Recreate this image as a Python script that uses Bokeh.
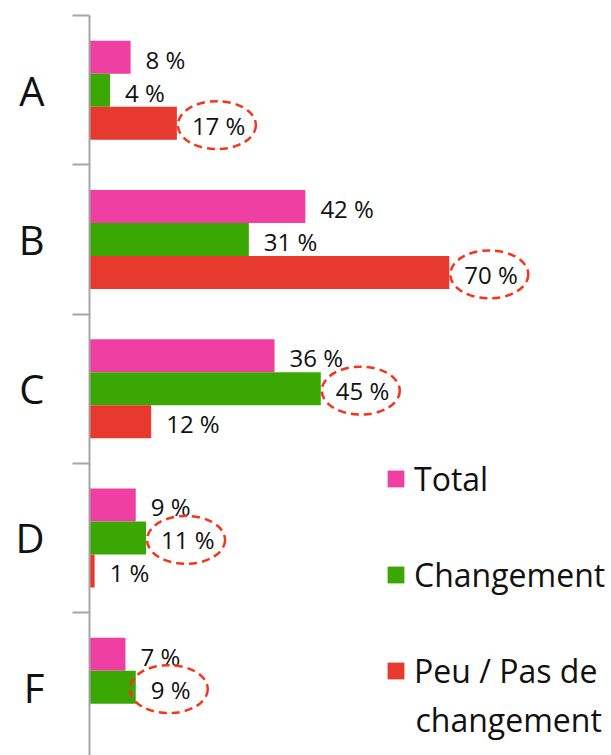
import numpy as np
from bokeh.plotting import figure
from bokeh.models import (Range1d, FixedTicker, LinearAxis, ColumnDataSource,
                          Legend, LegendItem, Label)
from bokeh.embed import file_html
from bokeh.resources import INLINE
from bokeh.core.properties import value

# ---------------- data ----------------
categories = ["A", "B", "C", "D", "F"]
series_names = ["Total", "Changement", "Peu / Pas de", "changement"]
total = [8, 42, 36, 9, 7]
changement = [4, 31, 45, 11, 9]
peu_pas = [17, 70, 12, 1, np.nan]
# which series is circled for each category (index into series)
highlight = [2, 2, 1, 1, 1]

colors = ["#EF3FA2", "#3AA704", "#E7392E"]
FONT = "Open Sans"

W, H = 611, 755
LEFT, TOP = 89, 15
frame_w = W - LEFT
frame_h = H - TOP
band_px = 149.25
px_per_unit = 5.14
x_end = frame_w / px_per_unit
y_bottom = -0.5 + frame_h / band_px

p = figure(width=W, height=H, output_backend="svg", toolbar_location=None,
           x_range=Range1d(0, x_end), y_range=Range1d(y_bottom, -0.5),
           x_axis_location=None, y_axis_location=None,
           min_border_left=LEFT, min_border_top=TOP, min_border_right=0,
           min_border_bottom=0)
p.outline_line_color = None
p.xgrid.visible = False
p.ygrid.visible = False

n = len(categories)
centers = list(range(n))
bar_h = 33 / band_px
offsets = [-bar_h, 0.0, bar_h]
all_series = [total, changement, peu_pas]

renderers = []
for k, (vals, col) in enumerate(zip(all_series, colors)):
    ys, vs = [], []
    for i, v in enumerate(vals):
        if v is None or (isinstance(v, float) and np.isnan(v)):
            continue
        ys.append(centers[i] + offsets[k])
        vs.append(v)
    src = ColumnDataSource(dict(y=ys, right=vs, lab=[f"{v:g} %" for v in vs]))
    r = p.hbar(y="y", left=0, right="right", height=bar_h, source=src,
               fill_color=col, line_color=None)
    renderers.append(r)
    p.text(x="right", y="y", text="lab", source=src, x_offset=15, y_offset=2,
           text_align="left", text_baseline="middle",
           text_font=value(FONT), text_font_size="24px", text_color="#111111")

# dashed ellipses around highlighted labels
ex, ey = [], []
for i, k in enumerate(highlight):
    v = all_series[k][i]
    lab = f"{v:g} %"
    off_px = 15 + 7 * len(lab) - 3
    ex.append(v + off_px / px_per_unit)
    ey.append(centers[i] + offsets[k] + 2 / band_px)
p.ellipse(x=ex, y=ey, width=78, height=48, width_units="screen",
          height_units="screen", fill_color=None, line_color="#F5341A",
          line_width=2.5, line_dash="8 5")

# axis with category labels, tick marks at band boundaries
yaxis = LinearAxis()
yaxis.ticker = FixedTicker(ticks=centers,
                           minor_ticks=[c - 0.5 for c in centers])
yaxis.major_label_overrides = {c: lab for c, lab in zip(centers, categories)}
yaxis.major_tick_line_color = None
yaxis.major_tick_out = 0
yaxis.major_tick_in = 0
yaxis.minor_tick_out = 17
yaxis.minor_tick_in = 0
yaxis.minor_tick_line_color = "#A6A6A6"
yaxis.minor_tick_line_width = 2
yaxis.axis_line_color = "#A6A6A6"
yaxis.axis_line_width = 2
yaxis.major_label_standoff = 28
yaxis.major_label_text_font = FONT
yaxis.major_label_text_font_size = "40px"
yaxis.major_label_text_color = "#111111"
yaxis.major_label_orientation = "horizontal"
p.add_layout(yaxis, "left")

legend = Legend(items=[LegendItem(label=nm, renderers=[r])
                       for nm, r in zip(series_names[:3], renderers)],
                location=(296, 63), orientation="vertical",
                glyph_width=21, glyph_height=21, label_standoff=8,
                spacing=53, padding=0, margin=0,
                border_line_color=None, background_fill_alpha=0,
                label_text_font=FONT, label_text_font_size="32px",
                label_text_color="#111111")
p.add_layout(legend, "center")

# second line of the third legend label
p.add_layout(Label(x=(415 - LEFT) / px_per_unit,
                   y=-0.5 + (719 - TOP) / band_px,
                   text=series_names[3], text_align="left",
                   text_baseline="alphabetic", text_font=FONT,
                   text_font_size="32px", text_color="#111111"))

open("out.html", "w").write(file_html(p, INLINE))
